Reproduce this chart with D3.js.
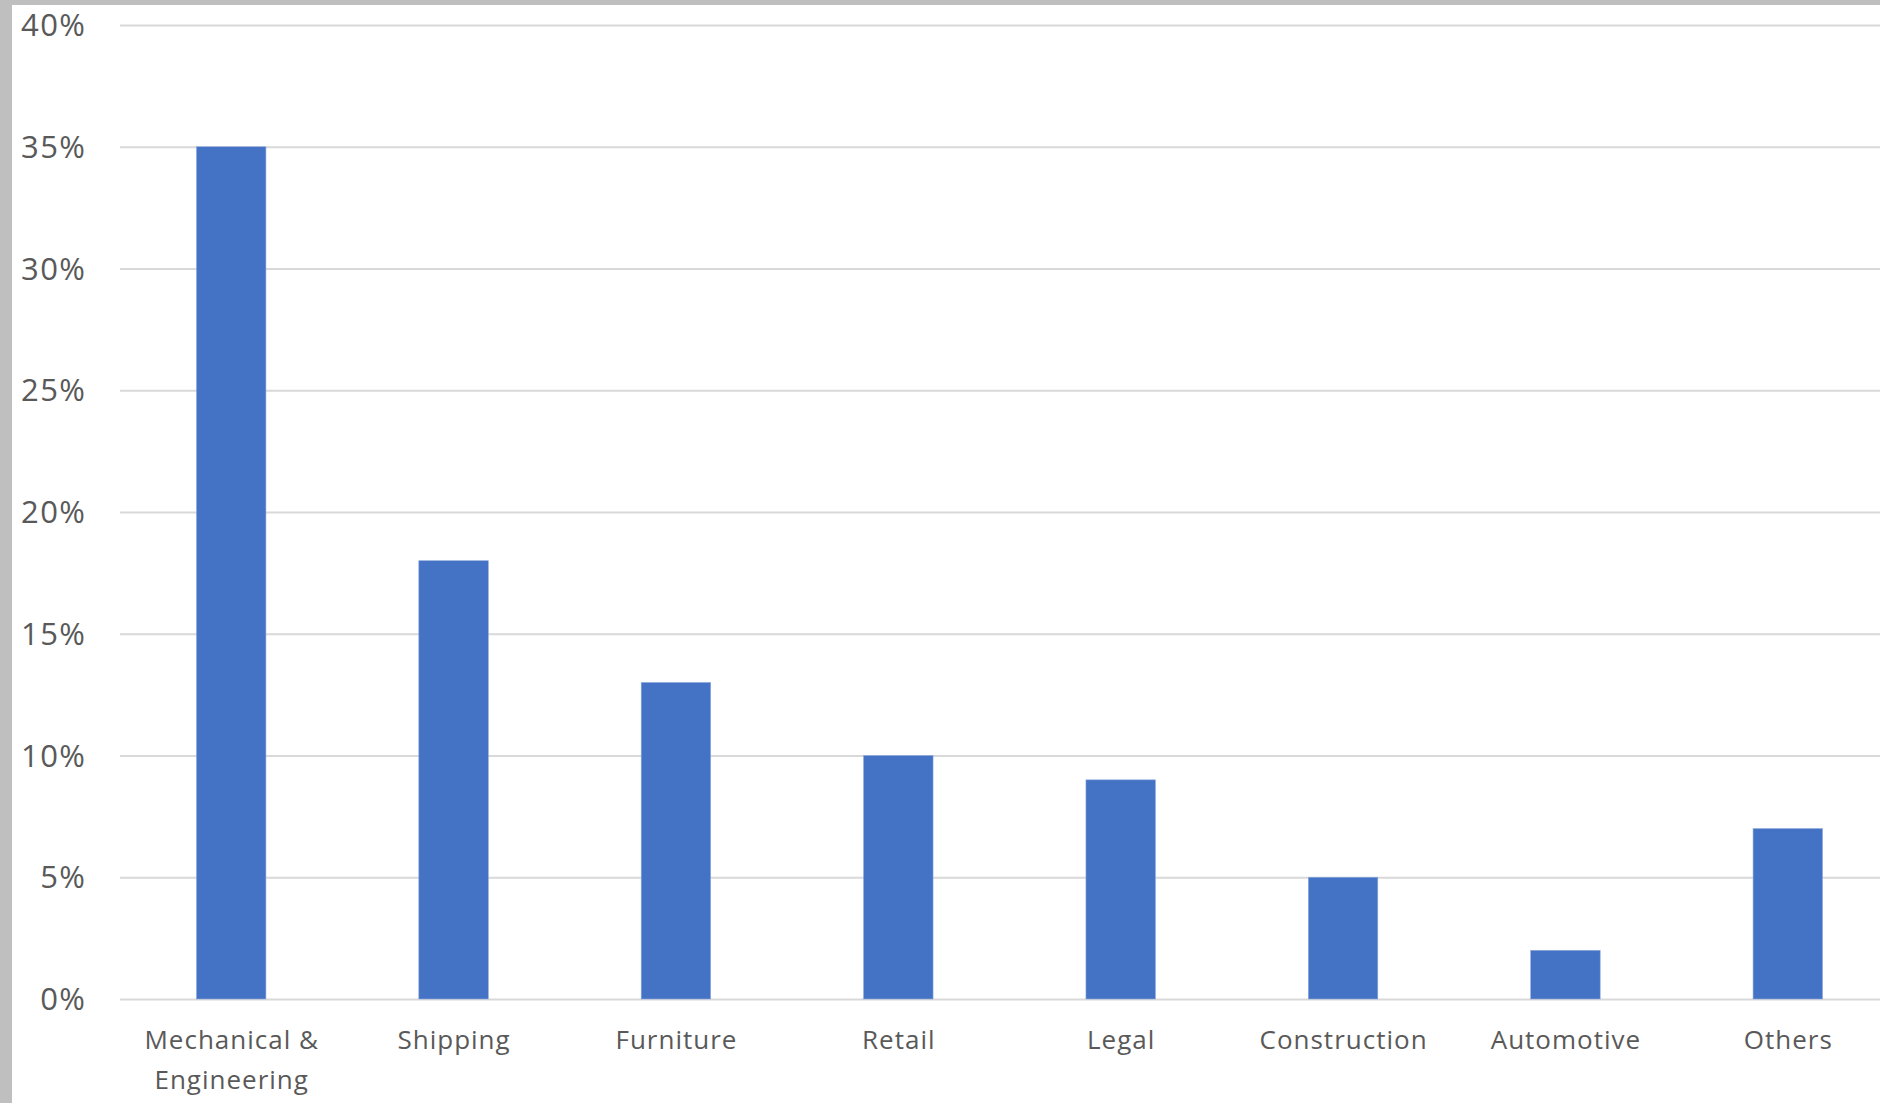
<!DOCTYPE html>
<html>
<head>
<meta charset="utf-8">
<script src="https://cdn.jsdelivr.net/npm/d3@7"></script>
<style>
  html, body { margin: 0; padding: 0; background: #ffffff; overflow: hidden; }
  svg { display: block; }
</style>
</head>
<body>
<script>
const categories = [["Mechanical &", "Engineering"], ["Shipping"], ["Furniture"], ["Retail"], ["Legal"], ["Construction"], ["Automotive"], ["Others"]];
const values = [35, 18, 13, 10, 9, 5, 2, 7];
const yTicks = [0, 5, 10, 15, 20, 25, 30, 35, 40];

const W = 1880, H = 1103;
const svg = d3.select("body").append("svg").attr("width", W).attr("height", H);

svg.append("rect").attr("x", 0).attr("y", 0).attr("width", W).attr("height", H).attr("fill", "#ffffff");
// frame strips
svg.append("rect").attr("x", 0).attr("y", 0).attr("width", W).attr("height", 5).attr("fill", "#bfbfbf");
svg.append("rect").attr("x", 0).attr("y", 0).attr("width", 12).attr("height", H).attr("fill", "#bfbfbf");

const plotLeft = 120, plotRight = 1899, yTop = 25, yBottom = 999;

const x = d3.scaleBand().domain(d3.range(categories.length)).range([plotLeft, plotRight]).paddingInner(0.6875).paddingOuter(0.34375);
const y = d3.scaleLinear().domain([0, 40]).range([yBottom, yTop]);

// gridlines
const yAxis = d3.axisLeft(y).tickValues(yTicks).tickSize(-(W - plotLeft)).tickFormat(d => d + "%").tickPadding(33.5);
const gy = svg.append("g").attr("transform", `translate(${plotLeft},0)`).call(yAxis);
gy.select(".domain").remove();
gy.selectAll(".tick line").attr("stroke", "#d9d9d9").attr("stroke-width", 2);
gy.selectAll(".tick text")
  .attr("fill", "#595959")
  .style("font-family", "'Open Sans', sans-serif")
  .style("font-size", "31px")
  .style("letter-spacing", "1.5px")
  .attr("dy", "0.34em");

// bars
svg.append("g").selectAll("rect").data(values).join("rect")
  .attr("x", (d, i) => x(i))
  .attr("width", x.bandwidth())
  .attr("y", d => y(d))
  .attr("height", d => y(0) - y(d))
  .attr("fill", "#4472c4")
  .attr("stroke", "#8faadc")
  .attr("stroke-width", 0.6);

// x labels
const xl = svg.append("g").selectAll("text").data(categories).join("text")
  .attr("x", (d, i) => x(i) + x.bandwidth() / 2 + 0.5)
  .attr("y", 1049)
  .attr("text-anchor", "middle")
  .attr("fill", "#595959")
  .style("font-family", "'Open Sans', sans-serif")
  .style("font-size", "26px")
  .style("letter-spacing", "1px");
xl.selectAll("tspan").data(d => d).join("tspan")
  .attr("x", function() { return d3.select(this.parentNode).attr("x"); })
  .attr("dy", (d, i) => i === 0 ? 0 : 40)
  .text(d => d);
</script>
</body>
</html>
